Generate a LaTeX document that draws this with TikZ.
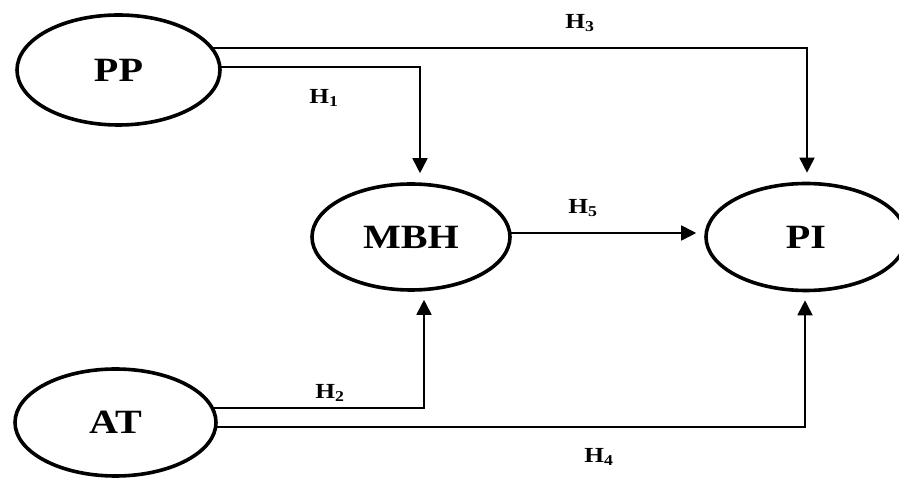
\documentclass[tikz,border=0pt]{standalone}
\usepackage{fontspec}
\setmainfont[FakeStretch=1.18]{Liberation Serif}
\usetikzlibrary{shapes.geometric,arrows.meta,backgrounds}
\begin{document}
\begin{tikzpicture}[x=1pt,y=1pt,
  var/.style={draw, ellipse, line width=3.6pt, fill=white, inner sep=0pt,
    font=\fontsize{34}{40}\selectfont\bfseries},
  arr/.style={line width=1.8pt, -{Triangle[length=15pt,width=15pt]}},
  hlab/.style={font=\fontsize{21.5}{24}\selectfont\bfseries, inner sep=0pt}]
\useasboundingbox (0,0) rectangle (899,479);
\node[var, minimum width=203pt, minimum height=110pt] (PP) at (118.5,409) {PP};
\node[var, minimum width=198pt, minimum height=106pt] (MBH) at (411,242) {MBH};
\node[var, minimum width=200pt, minimum height=107pt] (PI) at (806,242) {PI};
\node[var, minimum width=201pt, minimum height=107pt] (AT) at (115.5,56.5) {AT};
\begin{scope}[on background layer]
\draw[arr] ([yshift=22pt]PP.center) -| ([xshift=1pt,yshift=9pt]PI.north);
\draw[arr] ([yshift=3pt]PP.center) -| ([xshift=9pt,yshift=9pt]MBH.north);
\draw[arr] ([yshift=4pt]MBH.center) -- ([yshift=4pt,xshift=-8pt]PI.west);
\draw[arr] ([yshift=14.5pt]AT.center) -| ([xshift=13pt,yshift=-8pt]MBH.south);
\draw[arr] ([yshift=-4.5pt]AT.center) -| ([xshift=-1pt,yshift=-8pt]PI.south);
\end{scope}
\node[hlab] (h1) at (324,381) {H\textsubscript{1}};
\node[hlab] (h3) at (580,456) {H\textsubscript{3}};
\node[hlab] (h5) at (583,271) {H\textsubscript{5}};
\node[hlab] (h2) at (330,86) {H\textsubscript{2}};
\node[hlab] (h4) at (599,22) {H\textsubscript{4}};
\end{tikzpicture}
\end{document}
